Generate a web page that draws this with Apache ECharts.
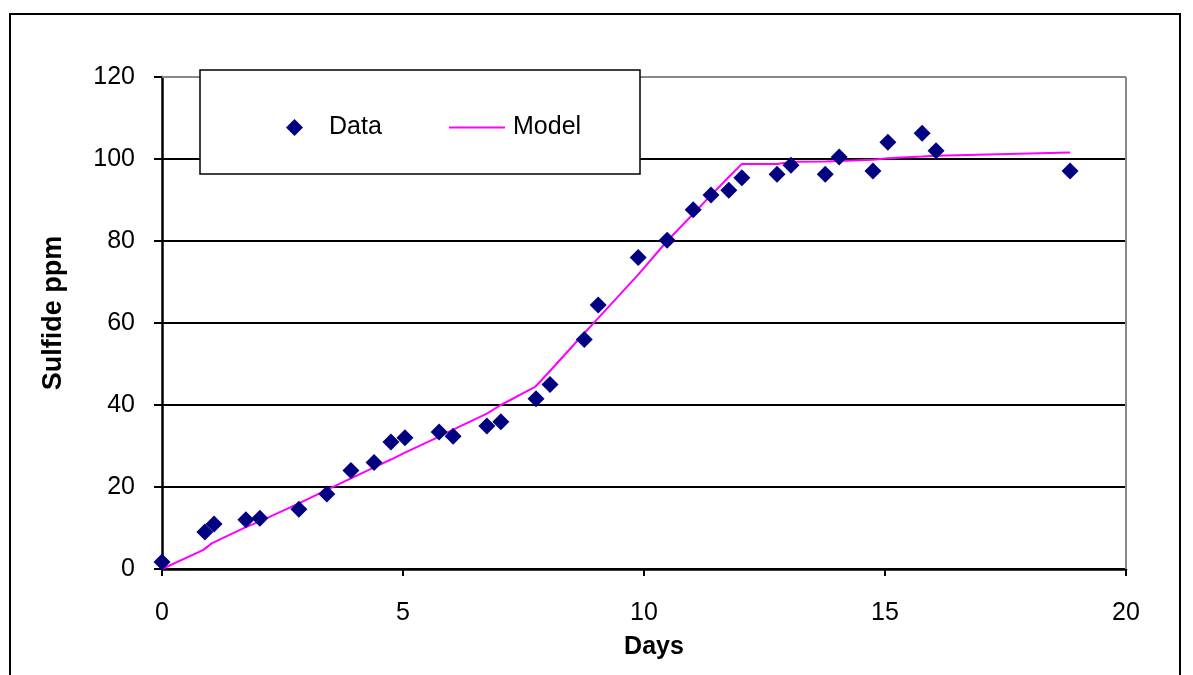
<!DOCTYPE html>
<html><head><meta charset="utf-8">
<script src="https://cdn.jsdelivr.net/npm/echarts@6/dist/echarts.min.js"></script>
<style>html,body{margin:0;padding:0;background:#fff}#c{width:1193px;height:675px}</style>
</head><body><div id="c"></div>
<script>
const days = [0, 0.89, 1.08, 1.74, 2.03, 2.84, 3.42, 3.92, 4.40, 4.75, 5.04, 5.75, 6.04, 6.74, 7.03, 7.76, 8.05, 8.76, 9.05, 9.88, 10.48, 11.02, 11.39, 11.76, 12.03, 12.76, 13.05, 13.76, 14.05, 14.75, 15.06, 15.77, 16.06, 18.84];
const dataPpm = [1.7, 9, 11, 12, 12.4, 14.6, 18.3, 24, 26, 31, 32, 33.4, 32.4, 34.9, 35.9, 41.5, 45, 56, 64.4, 76, 80.2, 87.6, 91.2, 92.4, 95.4, 96.3, 98.5, 96.3, 100.5, 97.1, 104.1, 106.3, 102, 97.1];
const modelDays = [0, 0.85, 1.04, 1.74, 2.03, 2.84, 3.42, 3.92, 4.40, 4.75, 5.04, 5.75, 6.04, 6.74, 7.03, 7.74, 8.05, 8.76, 9.05, 9.88, 10.48, 11.02, 11.39, 11.76, 12.03, 12.76, 13.05, 13.76, 14.05, 14.75, 15.06, 15.77, 16.06, 18.84];
const modelPpm = [0, 4.6, 6.3, 10.2, 11.6, 16.0, 19.3, 22.1, 24.8, 26.7, 28.4, 32.3, 34.0, 37.9, 40.0, 44.4, 48.3, 57.5, 61.2, 71.8, 80.0, 86.6, 91.2, 95.6, 98.8, 98.8, 99.3, 99.4, 99.5, 99.8, 100.2, 100.6, 100.8, 101.6];
const xTicks = [0, 5, 10, 15, 20];
const yTicks = [0, 20, 40, 60, 80, 100, 120];

const chart = echarts.init(document.getElementById('c'));
const font = 'Liberation Sans, Arial, sans-serif';
chart.setOption({
  animation: false,
  backgroundColor: '#fff',
  grid: {left: 162, top: 77, right: 67, bottom: 106, show: false},
  xAxis: {
    type: 'value', min: xTicks[0], max: xTicks[xTicks.length - 1], interval: 5,
    name: 'Days', nameLocation: 'middle', nameGap: 66,
    nameTextStyle: {fontFamily: font, fontSize: 25, fontWeight: 'bold', color: '#000', padding: [0, 0, 0, 20]},
    axisLine: {show: true, lineStyle: {color: '#000', width: 2.5}},
    axisTick: {show: true, inside: false, length: 7, lineStyle: {color: '#000', width: 2}},
    axisLabel: {fontFamily: font, fontSize: 25, color: '#000', margin: 32},
    splitLine: {show: false}
  },
  yAxis: {
    type: 'value', min: yTicks[0], max: yTicks[yTicks.length - 1], interval: 20,
    name: 'Sulfide ppm', nameLocation: 'middle', nameGap: 95,
    nameTextStyle: {fontFamily: font, fontSize: 27, fontWeight: 'bold', color: '#000', padding: [0, 0, 0, 20]},
    axisLine: {show: true, lineStyle: {color: '#000', width: 2.5}},
    axisTick: {show: true, inside: false, length: 8, lineStyle: {color: '#000', width: 2}},
    axisLabel: {fontFamily: font, fontSize: 25, color: '#000', margin: 27},
    splitLine: {show: true, lineStyle: {color: '#000', width: 2}}
  },
  legend: [
    {data: [{name: 'Data', icon: 'diamond'}], left: 281, top: 110, padding: 5, itemWidth: 17, itemHeight: 17, z: 10,
     textStyle: {fontFamily: font, fontSize: 25, color: '#000', padding: [0, 0, 0, 21]}},
    {data: [{name: 'Model', icon: 'rect'}], left: 444, top: 110, padding: 5, itemWidth: 56, itemHeight: 2, z: 10,
     textStyle: {fontFamily: font, fontSize: 25, color: '#000', padding: [0, 0, 0, 3]}}
  ],
  graphic: [
    {type: 'rect', shape: {x: 10, y: 14, width: 1170, height: 700}, style: {fill: 'none', stroke: '#000', lineWidth: 2}, z: 1, silent: true},
    {type: 'line', shape: {x1: 162, y1: 77, x2: 1126, y2: 77}, style: {stroke: '#888', lineWidth: 2}, z: 1},
    {type: 'line', shape: {x1: 1126, y1: 77, x2: 1126, y2: 569}, style: {stroke: '#888', lineWidth: 2}, z: 1},
    {type: 'rect', shape: {x: 200, y: 70, width: 440, height: 104}, style: {fill: '#fff', stroke: '#000', lineWidth: 1.5}, z: 5, silent: true}
  ],
  series: [
    {name: 'Data', type: 'scatter', symbol: 'diamond', symbolSize: 17, z: 3,
     itemStyle: {color: '#000080', opacity: 1},
     data: days.map((d, i) => [d, dataPpm[i]])},
    {name: 'Model', type: 'line', showSymbol: false, symbol: 'none', z: 2,
     lineStyle: {color: '#FF00FF', width: 2}, itemStyle: {color: '#FF00FF'},
     data: modelDays.map((d, i) => [d, modelPpm[i]])}
  ]
});
</script></body></html>
